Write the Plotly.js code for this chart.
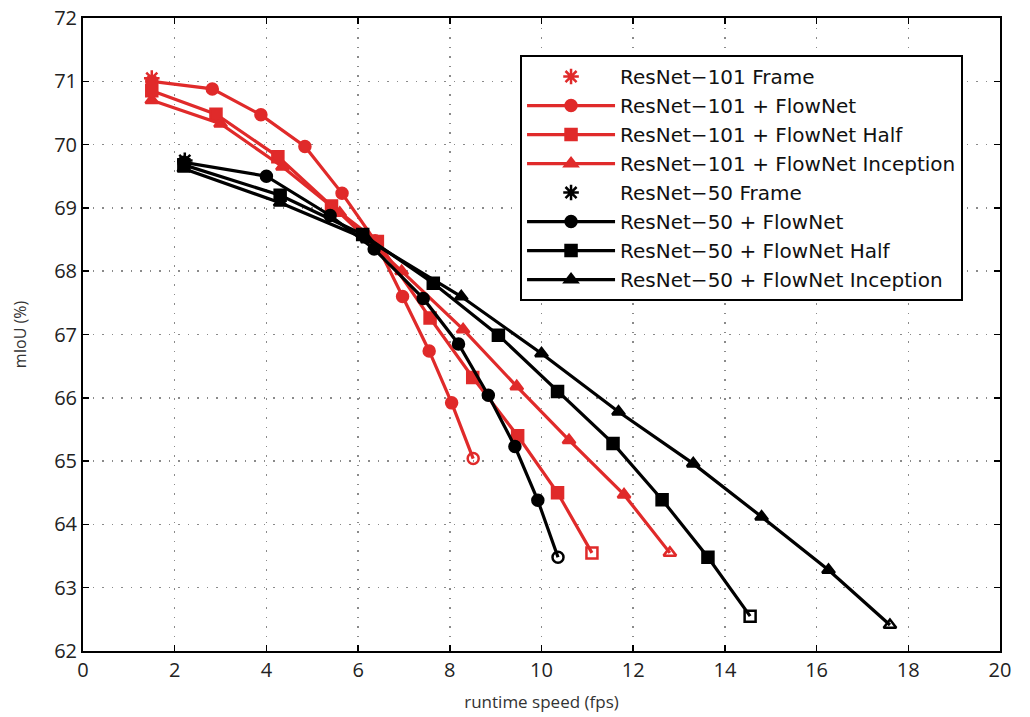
<!DOCTYPE html>
<html>
<head>
<meta charset="utf-8">
<script src="https://cdn.plot.ly/plotly-3.0.1.min.js"></script>
<style>html,body{margin:0;padding:0;background:#fff}#chart{width:1030px;height:717px}</style>
</head>
<body>
<div id="chart"></div>
<script>
// Data
const seriesNames = [
  "ResNet\u2212101 Frame",
  "ResNet\u2212101 + FlowNet",
  "ResNet\u2212101 + FlowNet Half",
  "ResNet\u2212101 + FlowNet Inception",
  "ResNet\u221250 Frame",
  "ResNet\u221250 + FlowNet",
  "ResNet\u221250 + FlowNet Half",
  "ResNet\u221250 + FlowNet Inception"
];

const r101FrameX = [1.5];
const r101FrameY = [71.05];

const r101FlowX = [1.5, 2.82, 3.88, 4.84, 5.65, 6.37, 6.97, 7.55, 8.04, 8.51];
const r101FlowY = [71.0, 70.88, 70.47, 69.97, 69.23, 68.48, 67.6, 66.74, 65.92, 65.04];

const r101HalfX = [1.5, 2.9, 4.25, 5.42, 6.42, 7.57, 8.5, 9.48, 10.35, 11.1];
const r101HalfY = [70.85, 70.48, 69.81, 69.03, 68.47, 67.26, 66.32, 65.4, 64.5, 63.55];

const r101IncX = [1.5, 3.0, 4.35, 5.6, 6.95, 8.29, 9.46, 10.6, 11.8, 12.8];
const r101IncY = [70.7, 70.33, 69.65, 68.92, 68.0, 67.08, 66.18, 65.33, 64.47, 63.55];

const r50FrameX = [2.22];
const r50FrameY = [69.75];

const r50FlowX = [2.2, 4.0, 5.39, 6.35, 7.42, 8.19, 8.84, 9.42, 9.92, 10.36];
const r50FlowY = [69.72, 69.5, 68.88, 68.35, 67.57, 66.85, 66.04, 65.23, 64.38, 63.48];

const r50HalfX = [2.2, 4.3, 6.1, 7.64, 9.06, 10.35, 11.56, 12.63, 13.63, 14.55];
const r50HalfY = [69.68, 69.2, 68.58, 67.81, 66.99, 66.1, 65.28, 64.39, 63.48, 62.55];

const r50IncX = [2.2, 4.3, 6.2, 8.25, 10.0, 11.68, 13.31, 14.8, 16.26, 17.6];
const r50IncY = [69.62, 69.08, 68.5, 67.6, 66.7, 65.78, 64.96, 64.12, 63.28, 62.41];

const xTicks = [0, 2, 4, 6, 8, 10, 12, 14, 16, 18, 20];
const yTicks = [62, 63, 64, 65, 66, 67, 68, 69, 70, 71, 72];

const RED = "#e02a2a";
const BLACK = "#000000";

function symbols(base, n) {
  const s = [];
  for (let i = 0; i < n; i++) s.push(i === n - 1 ? base + "-open" : base);
  return s;
}

function lineTrace(name, x, y, color, sym) {
  return {
    type: "scatter", mode: "lines+markers", name: name, x: x, y: y,
    line: {color: color, width: 3.2},
    marker: {symbol: symbols(sym, x.length), size: 11, color: color,
             line: {color: color, width: 2.5}}
  };
}

function frameTrace(name, x, y, color) {
  return {
    type: "scatter", mode: "markers", name: name, x: x, y: y,
    marker: {symbol: "asterisk-open", size: 13, color: color,
             line: {color: color, width: 2.5}}
  };
}

const data = [
  frameTrace(seriesNames[0], r101FrameX, r101FrameY, RED),
  lineTrace(seriesNames[1], r101FlowX, r101FlowY, RED, "circle"),
  lineTrace(seriesNames[2], r101HalfX, r101HalfY, RED, "square"),
  lineTrace(seriesNames[3], r101IncX, r101IncY, RED, "triangle-up"),
  frameTrace(seriesNames[4], r50FrameX, r50FrameY, BLACK),
  lineTrace(seriesNames[5], r50FlowX, r50FlowY, BLACK, "circle"),
  lineTrace(seriesNames[6], r50HalfX, r50HalfY, BLACK, "square"),
  lineTrace(seriesNames[7], r50IncX, r50IncY, BLACK, "triangle-up")
];

const axisCommon = {
  showline: true, linecolor: "#000", linewidth: 2, mirror: "ticks",
  ticks: "inside", ticklen: 6, tickwidth: 1.5, tickcolor: "#000",
  showgrid: true, gridcolor: "#8a8a8a", gridwidth: 1.5, griddash: "1.5px,8px",
  zeroline: false, tickfont: {family: "Open Sans, sans-serif", size: 20, color: "#222"}
};

const layout = {
  width: 1030, height: 717,
  margin: {l: 83, r: 30, t: 18, b: 66},
  paper_bgcolor: "#fff", plot_bgcolor: "#fff",
  font: {family: "Open Sans, sans-serif", color: "#222"},
  xaxis: Object.assign({}, axisCommon, {
    range: [0, 20], tickvals: xTicks, ticktext: xTicks.map(String),
    title: {text: "runtime speed (fps)", font: {size: 17, color: "#333"}, standoff: 14}
  }),
  yaxis: Object.assign({}, axisCommon, {
    range: [62, 72], tickvals: yTicks, ticktext: yTicks.map(String),
    title: {text: "mIoU (%)", font: {size: 16, color: "#333"}, standoff: 24}
  }),
  legend: {
    x: 0.4766, y: 0.9415, xanchor: "left", yanchor: "top",
    bgcolor: "#fff", bordercolor: "#000", borderwidth: 2,
    font: {family: "DejaVu Sans, sans-serif", size: 20, color: "#111"},
    itemwidth: 88, tracegroupgap: 0
  },
  showlegend: true
};

Plotly.newPlot("chart", data, layout, {displayModeBar: false, staticPlot: true});
</script>
</body>
</html>
